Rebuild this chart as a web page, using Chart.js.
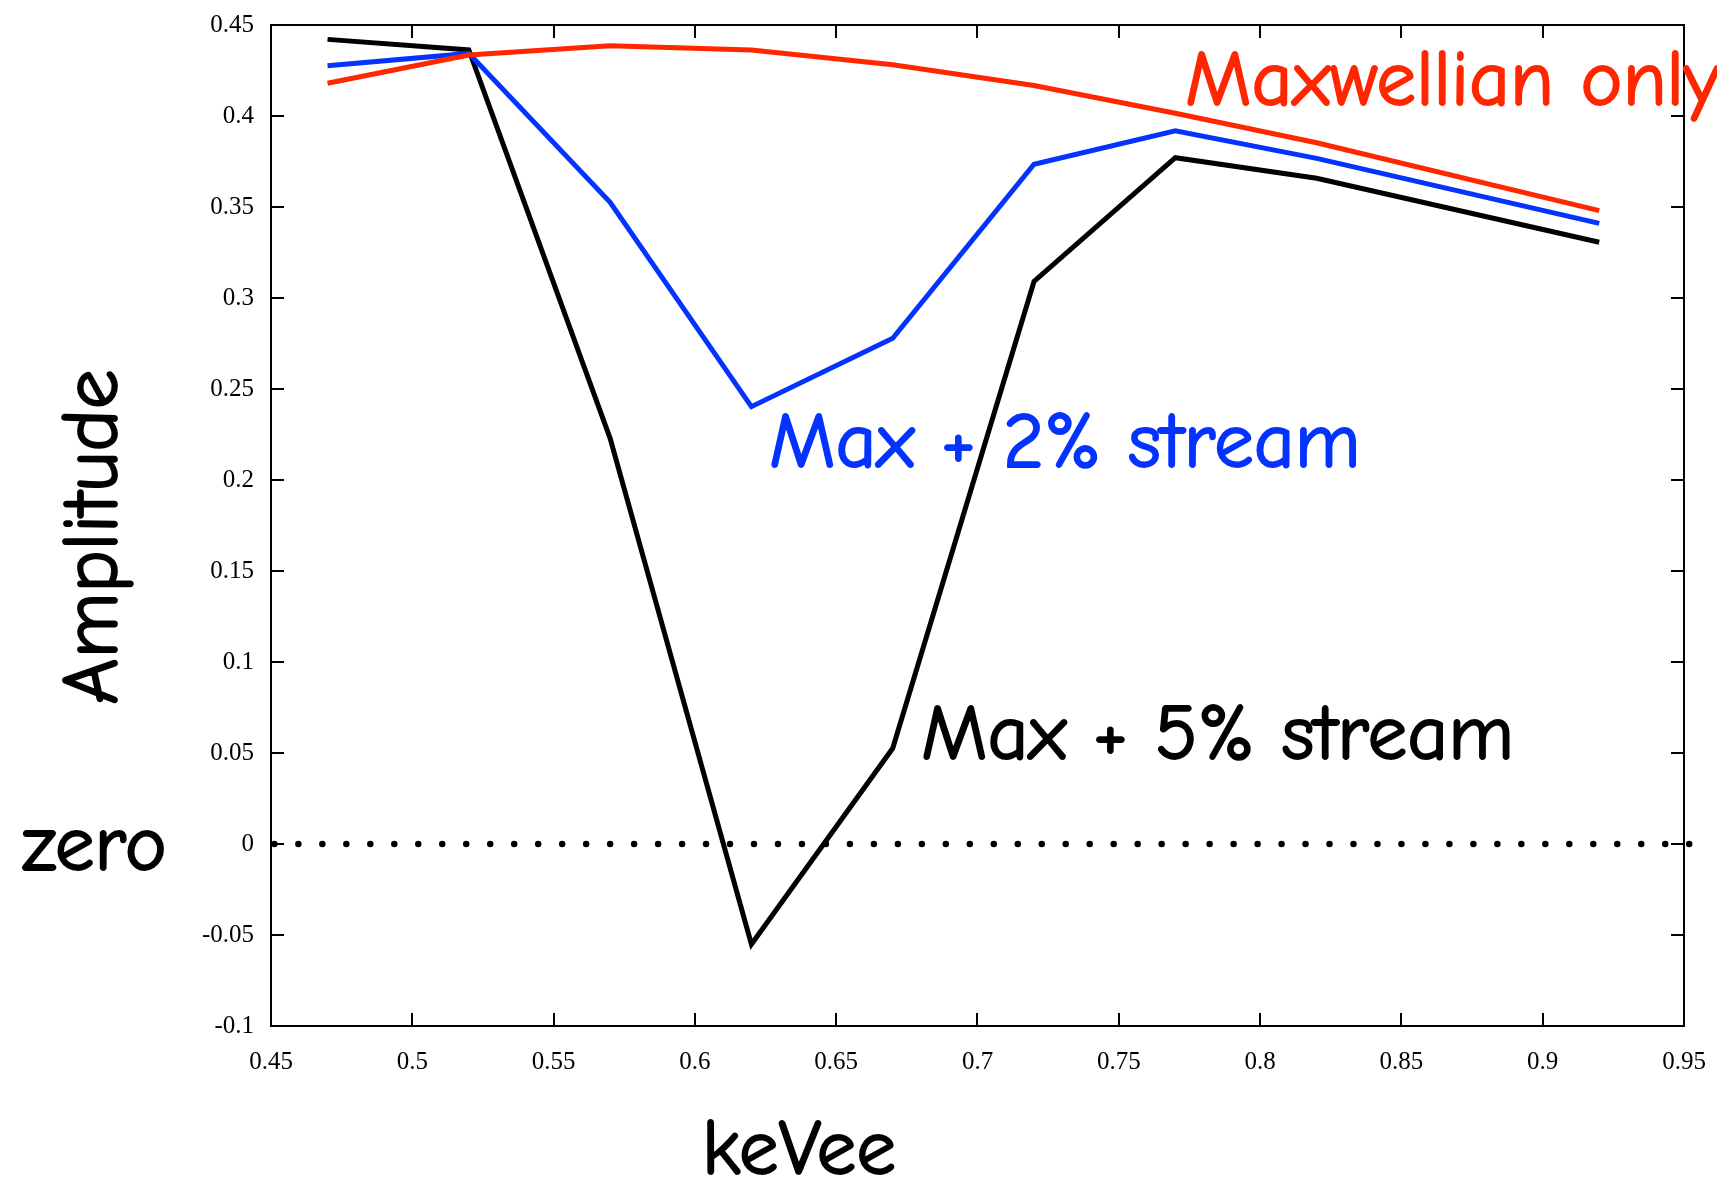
<!DOCTYPE html>
<html>
<head>
<meta charset="utf-8">
<title>Amplitude vs keVee</title>
<script src="https://cdn.jsdelivr.net/npm/chart.js@4.4.1/dist/chart.umd.min.js"></script>
<style>
  html, body { margin: 0; padding: 0; background: #ffffff; }
  #wrap { width: 1717px; height: 1183px; position: relative; }
</style>
</head>
<body>
<div id="wrap"><canvas id="chart" width="1717" height="1183"></canvas></div>
<script>
// Energy bins (keVee)
const kev = [0.47, 0.52, 0.57, 0.62, 0.67, 0.72, 0.77, 0.82, 0.92];

// Modulation amplitude for each halo model
const maxwellianOnly = [0.418, 0.4335, 0.4386, 0.4363, 0.4282, 0.4168, 0.4015, 0.3853, 0.348];
const maxPlus2Stream = [0.4276, 0.4344, 0.3526, 0.2403, 0.2779, 0.3735, 0.3919, 0.3767, 0.341];
const maxPlus5Stream = [0.4421, 0.4363, 0.2229, -0.0551, 0.0526, 0.3091, 0.3771, 0.3658, 0.3306];

// Dotted zero reference line, x extent in keVee
const zeroLineSpan = [0.4512, 0.9530];

// Axis ranges and tick step
const xRange = [0.45, 0.95];
const yRange = [-0.1, 0.45];
const tickStep = 0.05;

const RED = '#ff2600';
const BLUE = '#0433ff';
const BLACK = '#000000';
const HAND_FONT = '"Comic Sans MS", "Comic Neue", "DejaVu Sans", sans-serif';
const TICK_FONT = '"Liberation Serif", "Times New Roman", serif';

const toPoints = (xs, ys) => xs.map((x, i) => ({ x: x, y: ys[i] }));
const fmt = v => String(+v.toFixed(2));

// Frame with inward-pointing tick marks on all four sides
const framePlugin = {
  id: 'frame',
  beforeDatasetsDraw(chart) {
    const { ctx, chartArea: a, scales } = chart;
    const len = 13;
    ctx.save();
    ctx.strokeStyle = '#000';
    ctx.lineWidth = 2;
    ctx.strokeRect(a.left, a.top, a.right - a.left, a.bottom - a.top);
    ctx.beginPath();
    scales.x.ticks.forEach(t => {
      const px = Math.round(scales.x.getPixelForValue(t.value));
      ctx.moveTo(px, a.bottom); ctx.lineTo(px, a.bottom - len);
      ctx.moveTo(px, a.top); ctx.lineTo(px, a.top + len);
    });
    scales.y.ticks.forEach(t => {
      const py = Math.round(scales.y.getPixelForValue(t.value));
      ctx.moveTo(a.left, py); ctx.lineTo(a.left + len, py);
      ctx.moveTo(a.right, py); ctx.lineTo(a.right - len, py);
    });
    ctx.stroke();
    ctx.restore();
  }
};

// Axis titles and curve labels in a handwritten style
const labelPlugin = {
  id: 'labels',
  afterDraw(chart) {
    const { ctx } = chart;
    ctx.save();
    ctx.font = '60px ' + HAND_FONT;
    const size = 60 * 593 / ctx.measureText('Max + 5% stream').width;
    ctx.font = size.toFixed(1) + 'px ' + HAND_FONT;
    ctx.textBaseline = 'alphabetic';
    ctx.lineWidth = 1.8;
    ctx.lineJoin = 'round';

    const put = (text, x, y, color) => {
      ctx.fillStyle = color;
      ctx.strokeStyle = color;
      ctx.fillText(text, x, y);
      ctx.strokeText(text, x, y);
    };

    ctx.textAlign = 'left';
    put('Maxwellian only', 1185, 105, RED);
    put('Max + 2% stream', 769, 467, BLUE);
    put('Max + 5% stream', 921, 759, BLACK);
    put('zero', 22, 870, BLACK);

    ctx.textAlign = 'center';
    put('keVee', 799, 1174, BLACK);

    ctx.translate(117, 537);
    ctx.rotate(-Math.PI / 2);
    put('Amplitude', 0, 0, BLACK);
    ctx.restore();
  }
};

const lineStyle = color => ({
  borderColor: color,
  backgroundColor: color,
  borderWidth: 5,
  pointRadius: 0,
  pointHoverRadius: 0,
  tension: 0,
  fill: false,
  borderJoinStyle: 'miter'
});

new Chart(document.getElementById('chart'), {
  type: 'scatter',
  data: {
    datasets: [
      Object.assign({ label: 'Maxwellian only', data: toPoints(kev, maxwellianOnly), showLine: true }, lineStyle(RED)),
      Object.assign({ label: 'Max + 2% stream', data: toPoints(kev, maxPlus2Stream), showLine: true }, lineStyle(BLUE)),
      Object.assign({ label: 'Max + 5% stream', data: toPoints(kev, maxPlus5Stream), showLine: true }, lineStyle(BLACK)),
      {
        label: 'zero',
        data: zeroLineSpan.map(x => ({ x: x, y: 0 })),
        showLine: true,
        borderColor: BLACK,
        borderWidth: 6.5,
        borderDash: [0, 23.98],
        borderCapStyle: 'round',
        pointRadius: 0,
        pointHoverRadius: 0,
        clip: false
      }
    ]
  },
  options: {
    responsive: false,
    devicePixelRatio: 1,
    animation: false,
    events: [],
    layout: { padding: { top: 25, right: 33, left: 0, bottom: 0 } },
    plugins: { legend: { display: false }, tooltip: { enabled: false } },
    scales: {
      x: {
        type: 'linear',
        min: xRange[0],
        max: xRange[1],
        afterFit(scale) {
          scale.height = 157;
          scale.paddingLeft = 0; scale.paddingRight = 0;
          scale.paddingTop = 0; scale.paddingBottom = 0;
        },
        border: { display: false },
        grid: { display: false, drawTicks: false },
        ticks: {
          stepSize: tickStep,
          padding: 21,
          color: '#000',
          font: { family: TICK_FONT, size: 25 },
          maxRotation: 0,
          autoSkip: false,
          callback: v => fmt(v)
        }
      },
      y: {
        type: 'linear',
        min: yRange[0],
        max: yRange[1],
        afterFit(scale) {
          scale.width = 271;
          scale.paddingLeft = 0; scale.paddingRight = 0;
          scale.paddingTop = 0; scale.paddingBottom = 0;
        },
        border: { display: false },
        grid: { display: false, drawTicks: false },
        ticks: {
          stepSize: tickStep,
          padding: 17,
          color: '#000',
          font: { family: TICK_FONT, size: 25 },
          autoSkip: false,
          callback: v => fmt(v)
        }
      }
    }
  },
  plugins: [framePlugin, labelPlugin]
});
</script>
</body>
</html>
